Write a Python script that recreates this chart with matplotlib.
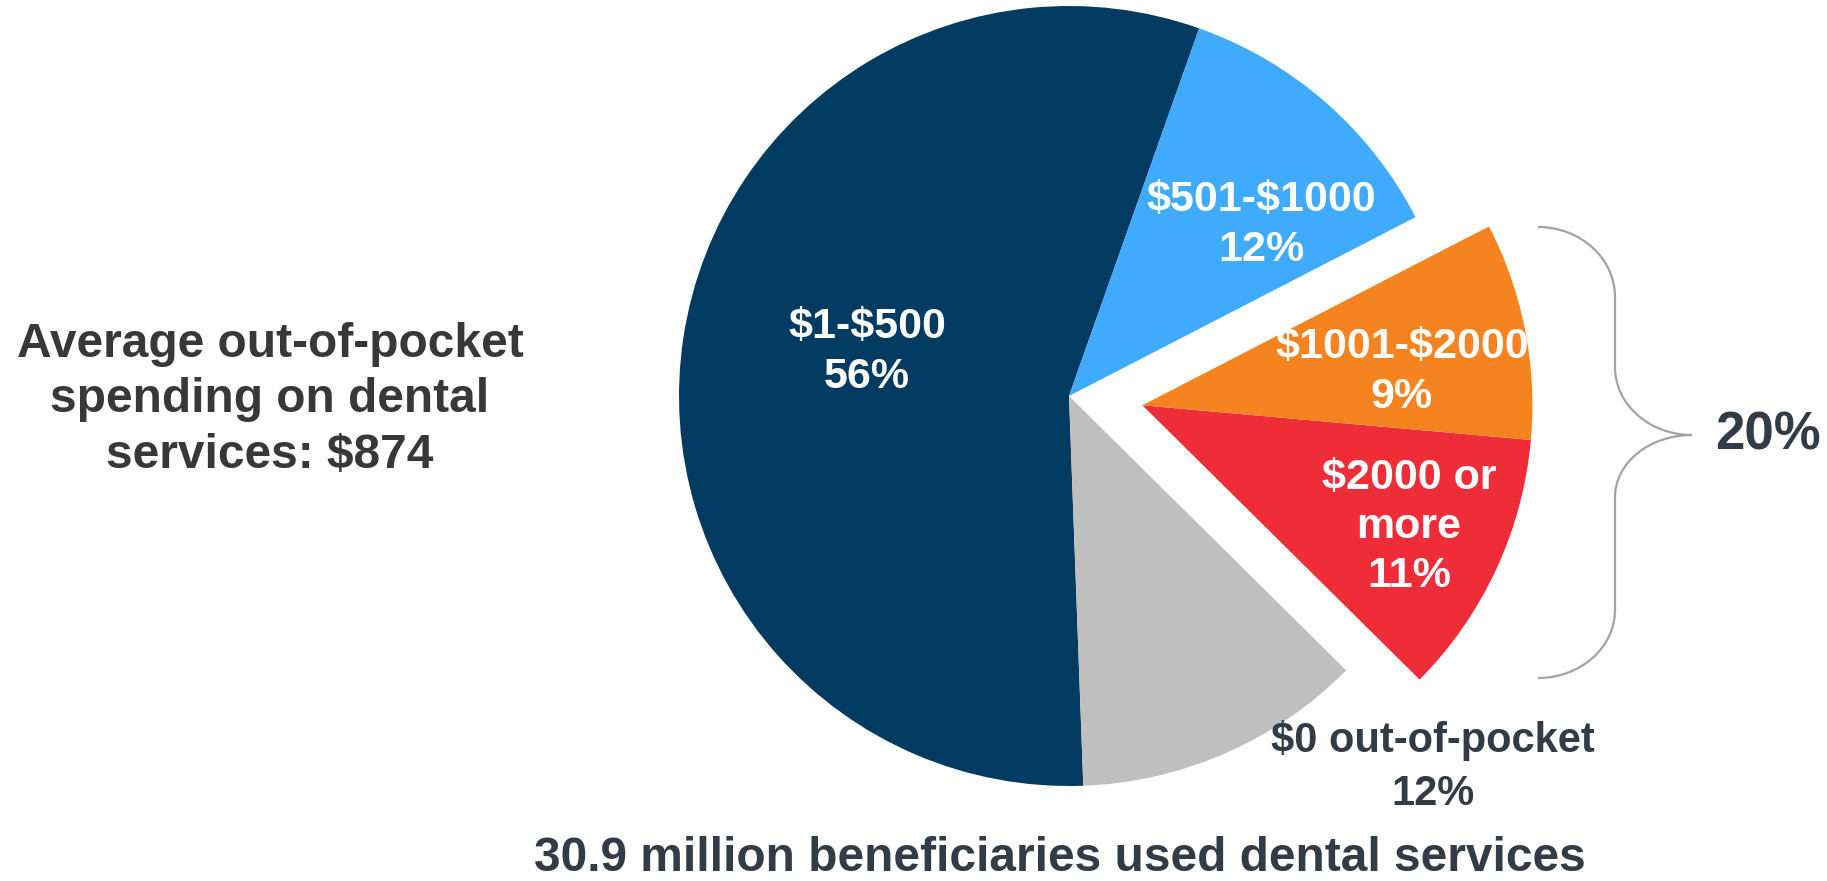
import matplotlib
matplotlib.use("Agg")
import matplotlib.pyplot as plt
from matplotlib.path import Path
from matplotlib.patches import PathPatch
import numpy as np

plt.rcParams['text.parse_math'] = False
plt.rcParams['font.family'] = ['Liberation Sans', 'DejaVu Sans']
plt.rcParams['font.weight'] = 'bold'

# spending groups, counter-clockwise from the top
groups = ["$1-$500", "$0 out-of-pocket", "$2000 or\nmore", "$1001-$2000", "$501-$1000"]
shares = [56, 12, 11, 9, 12]
colors = ["#023B62", "#BFBFBF", "#EE2D39", "#F58420", "#40ABFD"]
pulled = [2, 3]          # wedges pulled out together
high_spenders = 20       # share of $1000+ spenders
avg_spend = 874
users_mil = 30.9

W, H = 1827, 881
fig = plt.figure(figsize=(W / 100, H / 100), dpi=100)
ax = fig.add_axes([0, 0, 1, 1])

def px(x, y):
    # picture coordinates (y downward) -> axes data
    return x, H - y

cx, cy = px(1069, 396)
R = 390
wedges, _ = ax.pie(shares, colors=colors, startangle=70.5, counterclock=True,
                   radius=R, center=(cx, cy), wedgeprops=dict(linewidth=0))

# pull the two high-spending wedges out along their common mid angle
t1 = min(wedges[i].theta1 for i in pulled)
t2 = max(wedges[i].theta2 for i in pulled)
mid = np.deg2rad((t1 + t2) / 2 + 1.5)
off = 74
for i in pulled:
    wedges[i].set_center((cx + off * np.cos(mid), cy + off * np.sin(mid)))

ax.set_xlim(0, W)
ax.set_ylim(0, H)
ax.set_aspect('equal')
ax.axis('off')

# slice labels
spots = [(867, 352), (1433, 767), (1409, 527), (1402, 372), (1261, 225)]
for name, v, (x, y), i in zip(groups, shares, spots, range(len(groups))):
    inside = i != 1
    ax.text(*px(x, y), f"{name}\n{v}%", ha='center', va='center',
            fontsize=31 if inside else 30, linespacing=1.3 if inside else 1.42,
            color='white' if inside else '#333B46')

# curly brace round the pulled wedges
k = 0.5523
x0, xv, xt = 1538, 1615, 1692
ya, yb, yt, yc, yd, ye = 227, 297, 367, 435, 497, 610
yf = 678
pts = [
    (x0, ya), (x0 + k * (xv - x0), ya), (xv, yb - k * (yb - ya)), (xv, yb),
    (xv, yt),
    (xv, yt + k * (yc - yt)), (xt - k * (xt - xv), yc), (xt, yc),
    (xt - k * (xt - xv), yc), (xv, yd - k * (yd - yc)), (xv, yd),
    (xv, ye),
    (xv, ye + k * (yf - ye)), (x0 + k * (xv - x0), yf), (x0, yf),
]
codes = [Path.MOVETO, Path.CURVE4, Path.CURVE4, Path.CURVE4, Path.LINETO,
         Path.CURVE4, Path.CURVE4, Path.CURVE4, Path.CURVE4, Path.CURVE4, Path.CURVE4,
         Path.LINETO, Path.CURVE4, Path.CURVE4, Path.CURVE4]
brace = Path([px(*p) for p in pts], codes)
ax.add_patch(PathPatch(brace, fill=False, edgecolor='#A3A3A3', linewidth=1.6))
ax.text(*px(1768, 436), f"{high_spenders}%", ha='center', va='center',
        fontsize=38, color='#333B46')

ax.text(*px(270, 400), f"Average out-of-pocket\nspending on dental\nservices: ${avg_spend}",
        ha='center', va='center', fontsize=34.5, linespacing=1.3, color='#383838')
ax.text(*px(1060, 871), f"{users_mil} million beneficiaries used dental services",
        ha='center', va='baseline', fontsize=34.5, color='#333B46')

fig.savefig("out.png", dpi=100)
